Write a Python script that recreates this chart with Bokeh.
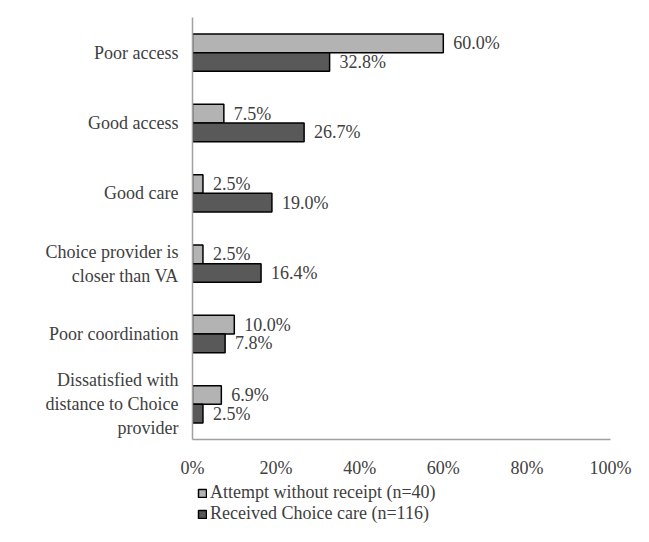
from bokeh.plotting import figure
from bokeh.layouts import column
from bokeh.models import (ColumnDataSource, FactorRange, Legend, LegendItem,
                          PrintfTickFormatter)
from bokeh.core.properties import value
from bokeh.transform import dodge
from bokeh.embed import file_html
from bokeh.resources import INLINE

categories = ["Poor access", "Good access", "Good care",
              "Choice provider is\ncloser than VA", "Poor coordination",
              "Dissatisfied with\ndistance to Choice\nprovider"]
attempt = [60.0, 7.5, 2.5, 2.5, 10.0, 6.9]
received = [32.8, 26.7, 19.0, 16.4, 7.8, 2.5]
series_names = ["Attempt without receipt (n=40)", "Received Choice care (n=116)"]
x_ticks = [0, 20, 40, 60, 80, 100]

FONT = "Liberation Serif"
TXT = "#404040"
AX = "#a0a0a0"
COLORS = ["#b3b3b3", "#595959"]

src = ColumnDataSource(dict(
    cat=categories,
    attempt=attempt,
    received=received,
    attempt_lbl=[f"{v:.1f}%" for v in attempt],
    received_lbl=[f"{v:.1f}%" for v in received],
))

off = 0.1325
bh = 0.265

p = figure(y_range=FactorRange(factors=categories[::-1]), x_range=(0, 100),
           width=633, height=480, output_backend="svg", toolbar_location=None,
           min_border_left=192, min_border_right=23, min_border_top=17,
           min_border_bottom=37)

bars = []
for col, o, c in (("attempt", off, COLORS[0]), ("received", -off, COLORS[1])):
    bars.append(p.hbar(y=dodge("cat", o, range=p.y_range), left=0, right=col,
                       height=bh, source=src, fill_color=c, line_color="black",
                       line_width=1.5))
    p.text(x=col, y=dodge("cat", o, range=p.y_range), text=col + "_lbl",
           source=src, x_offset=10, text_baseline="middle", text_align="left",
           text_font=value(FONT), text_font_size="18px", text_color=TXT)

p.xgrid.grid_line_color = None
p.ygrid.grid_line_color = None
p.outline_line_color = None

p.xaxis.ticker = x_ticks
p.xaxis.formatter = PrintfTickFormatter(format="%d%%")
for ax in (p.xaxis[0], p.yaxis[0]):
    ax.major_tick_line_color = None
    ax.minor_tick_line_color = None
    ax.axis_line_color = AX
    ax.axis_line_width = 1.5
    ax.major_label_text_font = FONT
    ax.major_label_text_font_size = "18px"
    ax.major_label_text_color = TXT
p.xaxis.major_label_standoff = 12
p.yaxis.major_label_standoff = 8

# legend strip: same bar styles, renderers hidden, only used for the legend
p2 = figure(y_range=FactorRange(factors=categories[::-1]), x_range=(-10, -9),
            width=633, height=46, output_backend="svg", toolbar_location=None,
            x_axis_type=None, y_axis_type=None, min_border=0)
p2.xgrid.grid_line_color = None
p2.ygrid.grid_line_color = None
p2.outline_line_color = None
lr = []
for col, o, c in (("attempt", off, COLORS[0]), ("received", -off, COLORS[1])):
    r = p2.hbar(y=dodge("cat", o, range=p2.y_range), left=0, right=col,
                height=bh, source=src, fill_color=c, line_color="black",
                line_width=1.5)
    r.visible = False
    lr.append(r)

legend = Legend(items=[LegendItem(label=n, renderers=[r])
                       for n, r in zip(series_names, lr)],
                orientation="vertical", location=(5, 2),
                label_text_font=FONT, label_text_font_size="18px",
                label_text_color=TXT, glyph_width=10, glyph_height=10,
                label_standoff=3, spacing=0, padding=0, margin=0,
                label_height=21, border_line_color=None,
                background_fill_alpha=0, inactive_fill_alpha=0)
p2.add_layout(legend)

open("out.html", "w").write(file_html(column(p, p2, spacing=0), INLINE))
